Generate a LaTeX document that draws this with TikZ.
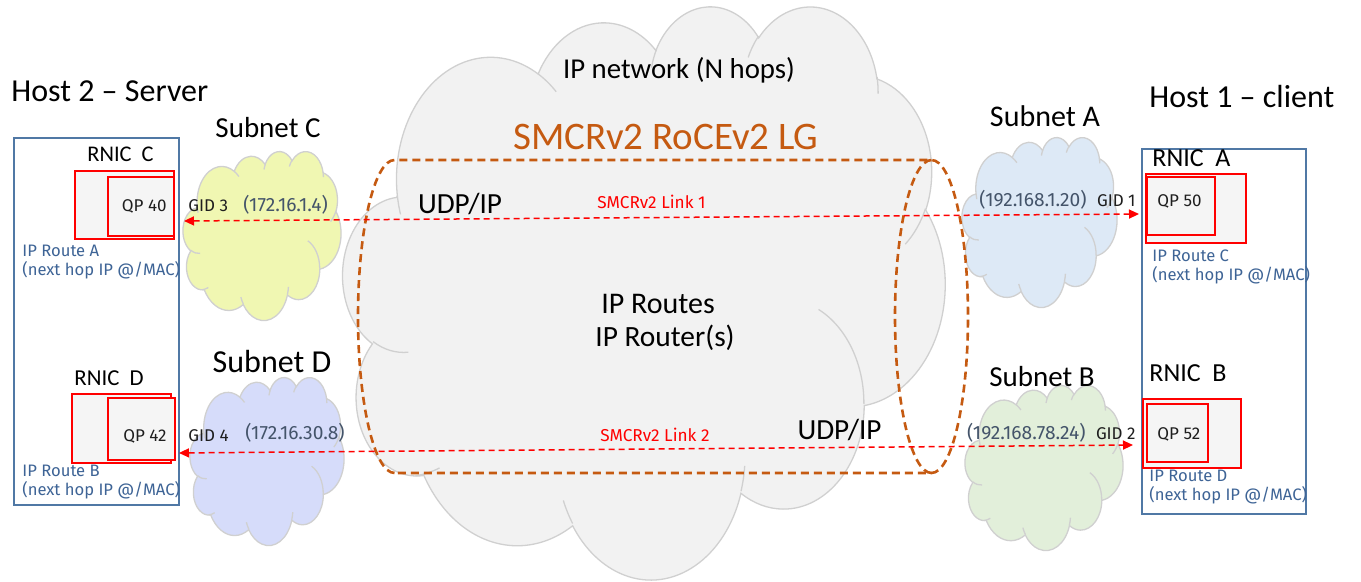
\documentclass[tikz,border=0pt]{standalone}
\usepackage{fontspec}
\setmainfont{Carlito}
\newfontfamily\plexf{Fira Sans}
\usetikzlibrary{arrows.meta}
\definecolor{lgorange}{RGB}{197,90,17}
\definecolor{hostblue}{RGB}{80,120,165}
\definecolor{routeblue}{RGB}{62,100,150}
\definecolor{ipgray}{RGB}{68,84,106}
\definecolor{cloudgray}{RGB}{242,242,242}
\definecolor{cloudedge}{RGB}{208,208,208}
\definecolor{cyellow}{RGB}{240,247,178}
\definecolor{clav}{RGB}{214,220,250}
\definecolor{cblue}{RGB}{221,233,246}
\definecolor{cgreen}{RGB}{226,239,218}
\definecolor{qpfill}{RGB}{245,245,245}
\definecolor{linkred}{RGB}{255,0,0}
\definecolor{darktxt}{RGB}{30,30,30}

\newcommand\cldarc[4]{arc[x radius=#1, y radius=#2, start angle={atan2((#1)*sin(#3),(#2)*cos(#3))}, delta angle={mod(atan2((#1)*sin((#3)+(#4)),(#2)*cos((#3)+(#4)))-atan2((#1)*sin(#3),(#2)*cos(#3))+720,360)}]}
\def\cloudpath{(39,143.7) \cldarc{67.53}{91.90}{-190.4875}{123.7805}
 \cldarc{53.33}{72.67}{-144.1024}{89.9452}
 \cldarc{43.65}{59.45}{-145.8079}{99.7230}
 \cldarc{48.57}{65.95}{-130.9861}{117.2417}
 \cldarc{53.33}{72.73}{-78.7089}{109.0269}
 \cldarc{67.75}{92.20}{-46.2673}{130.2690}
 \cldarc{57.85}{78.67}{0.6250}{114.0333}
 \cldarc{67.52}{92.15}{22.4516}{115.1726}
 \cldarc{77.20}{105.43}{66.2426}{75.7110}
 \cldarc{43.60}{59.18}{-274.9421}{146.7356}
 \cldarc{43.45}{59.45}{-246.8285}{152.5189} -- cycle}
\def\cloudinner{(46.93,261.77) \cldarc{43.45}{59.45}{86.742}{26.4295}
 (69.28,348.99) \cldarc{67.52}{92.15}{73.6105}{11.4475}
 (164.78,390.90) \cldarc{67.52}{92.15}{137.6242}{14.0811}
 (288.27,347.51) \cldarc{67.52}{92.15}{6.4533}{15.9984}
 (341.29,229.54) \cldarc{57.85}{78.67}{-70.2924}{70.9174}
 (417.98,153.54) \cldarc{53.33}{72.73}{30.3180}{27.7515}
 (383.24,54.26) \cldarc{48.57}{65.95}{-13.7443}{14.8589}
 (290.78,39.52) \cldarc{48.57}{65.95}{-149.1815}{18.1954}
 (221.41,47.20) \cldarc{43.65}{59.45}{-163.4943}{17.6864}
 (140.00,51.92) \cldarc{67.53}{91.90}{-66.7070}{12.3194}
 (41.27,157.89) \cldarc{67.53}{91.90}{157.6544}{11.8582}}
\newcommand\mycloud[5]{%
 \begin{scope}[shift={(#1,#2)}, xscale=#3/432, yscale=#4/432]
  \fill[#5] \cloudpath;
  \draw[cloudline] \cloudpath;
  \draw[cloudline] \cloudinner;
 \end{scope}}

\begin{document}
\begin{tikzpicture}[x=0.5pt, y=-0.5pt,
  cloudline/.style={draw=cloudedge, line width=0.65pt},
  hostbox/.style={draw=hostblue, line width=0.8pt, inner sep=0pt, anchor=north west},
  qpbox/.style={draw=linkred, fill=qpfill, line width=0.8pt, inner sep=0pt, anchor=north west},
  lg/.style={draw=lgorange, line width=1.3pt, dash pattern=on 4pt off 2.5pt},
  link/.style={draw=linkred, line width=0.75pt, dash pattern=on 3pt off 2pt, arrows={Triangle[length=5pt,width=4.5pt]-Triangle[length=5pt,width=4.5pt]}},
  t/.style={inner sep=0pt},
  big/.style={t, anchor=base, text=black},
  small/.style={t, text=darktxt, font=\plexf\fontsize{8.5}{10}\selectfont},
  ipaddr/.style={t, text=ipgray, font=\plexf\fontsize{9.6}{11}\selectfont},
  route/.style={t, anchor=base west, text=routeblue, font=\plexf\fontsize{8.3}{10}\selectfont},
  linklbl/.style={t, anchor=base, text=linkred, font=\plexf\fontsize{8.6}{10}\selectfont},
]
\useasboundingbox (0,0) rectangle (1361,582);
\fill[white] (0,0) rectangle (1361,582);

% clouds
\mycloud{343}{5}{602}{573}{cloudgray}
\mycloud{183}{151}{158}{169}{cyellow}
\mycloud{190}{377}{154}{168}{clav}
\mycloud{962}{137}{155}{170}{cblue}
\mycloud{965}{385}{158}{165}{cgreen}

% link group cylinder
\draw[lg] (394.5,473) arc[start angle=90, end angle=270, x radius=36.5, y radius=156.5]
  -- (931.5,160) arc[start angle=-90, end angle=90, x radius=36.5, y radius=156.5] -- cycle;
\draw[lg] (931.5,160) arc[start angle=270, end angle=90, x radius=36.5, y radius=156.5];

% hosts
\node[hostbox, minimum width=82.5pt, minimum height=183.5pt] (host2) at (13,137) {};
\node[hostbox, minimum width=82pt, minimum height=182.5pt] (host1) at (1141,148) {};

% RNIC boxes
\node[qpbox, minimum width=49.5pt, minimum height=34pt] (rcout) at (74,170) {};
\node[qpbox, minimum width=33pt, minimum height=29.5pt] (rcin) at (107,176) {};
\node[qpbox, minimum width=49.5pt, minimum height=34.5pt] (rdout) at (71,393) {};
\node[qpbox, minimum width=33.5pt, minimum height=31pt] (rdin) at (107,397) {};
\node[qpbox, minimum width=50pt, minimum height=34.5pt] (raout) at (1145,173) {};
\node[qpbox, minimum width=34pt, minimum height=29pt] (rain) at (1146,176) {};
\node[qpbox, minimum width=49pt, minimum height=34.5pt] (rbout) at (1142,398) {};
\node[qpbox, minimum width=30.5pt, minimum height=29pt] (rbin) at (1146,403) {};

% titles
\node[t, anchor=base west, font=\fontsize{16}{19}\selectfont] (h2title) at (11,102) {Host 2 – Server};
\node[t, anchor=base west, font=\fontsize{16}{19}\selectfont] (h1title) at (1149,108) {Host 1 – client};
\node[t, anchor=base, font=\fontsize{14.5}{17}\selectfont] (subc) at (268,138) {Subnet C};
\node[t, anchor=base, font=\fontsize{15}{18}\selectfont] (suba) at (1045,127) {Subnet A};
\node[t, anchor=base, font=\fontsize{14.5}{17}\selectfont] (subb) at (1042,387) {Subnet B};
\node[t, anchor=base, font=\fontsize{16}{19}\selectfont] (subd) at (272,373) {Subnet D};
\node[t, anchor=base west, font=\fontsize{11.2}{13}\selectfont] (rnicc) at (87,162) {RNIC\ \ C};
\node[t, anchor=base west, font=\fontsize{11.4}{13}\selectfont] (rnicd) at (74,386) {RNIC\ \ D};
\node[t, anchor=base west, font=\fontsize{13}{15}\selectfont] (rnica) at (1152,167) {RNIC\ \ A};
\node[t, anchor=base west, font=\fontsize{13}{15}\selectfont] (rnicb) at (1149,382) {RNIC\ \ B};

% cloud labels
\node[big, font=\fontsize{14.4}{17}\selectfont] (ipnet) at (679,79) {IP network (N hops)};
\node[big, text=lgorange, font=\fontsize{19.5}{23}\selectfont] (lgname) at (666,150) {SMCRv2 RoCEv2 LG};
\node[big, font=\fontsize{14.6}{17}\selectfont] (udp1) at (460,214) {UDP/IP};
\node[big, font=\fontsize{14.6}{17}\selectfont] (udp2) at (839.5,440) {UDP/IP};
\node[big, font=\fontsize{15}{18}\selectfont] (iproutes) at (658,314) {IP Routes};
\node[big, font=\fontsize{14.7}{17}\selectfont] (iprouters) at (665,347) {IP Router(s)};

% left host texts
\node[small, anchor=base east] (qp40) at (167,212) {QP 40};
\node[small, anchor=base west] (gid3) at (188,212) {GID 3};
\node[ipaddr, anchor=base west] (ip3) at (243,212) {(172.16.1.4)};
\node[route] (routea) at (22,257) {IP Route A};
\node[route] (routea2) at (22,276) {(next hop IP @/MAC)};
\node[small, anchor=base east] (qp42) at (167,442) {QP 42};
\node[small, anchor=base west] (gid4) at (188,442) {GID 4};
\node[ipaddr, anchor=base west] (ip4) at (245,440) {(172.16.30.8)};
\node[route] (routeb) at (22,477) {IP Route B};
\node[route] (routeb2) at (22,496) {(next hop IP @/MAC)};

% right host texts
\node[small, anchor=base west] (qp50) at (1157,207) {QP 50};
\node[small, anchor=base east] (gid1) at (1136,207) {GID 1};
\node[ipaddr, anchor=base east] (ip1) at (1087,207) {(192.168.1.20)};
\node[route] (routec) at (1152,262) {IP Route C};
\node[route] (routec2) at (1152,281) {(next hop IP @/MAC)};
\node[small, anchor=base west] (qp52) at (1157,440) {QP 52};
\node[small, anchor=base east] (gid2) at (1136,440) {GID 2};
\node[ipaddr, anchor=base east] (ip2) at (1086,440) {(192.168.78.24)};
\node[route] (routed) at (1149,482) {IP Route D};
\node[route] (routed2) at (1149,501) {(next hop IP @/MAC)};

% links
\coordinate (l1r) at (1139,214);
\coordinate (l1l) at (184,221);
\coordinate (l2r) at (1133,445);
\coordinate (l2l) at (179,453);
\draw[link] (l1l) -- (l1r);
\draw[link] (l2l) -- (l2r);
\node[linklbl] (lk1) at (651.5,209) {SMCRv2 Link 1};
\node[linklbl] (lk2) at (655,442) {SMCRv2 Link 2};
\end{tikzpicture}
\end{document}
